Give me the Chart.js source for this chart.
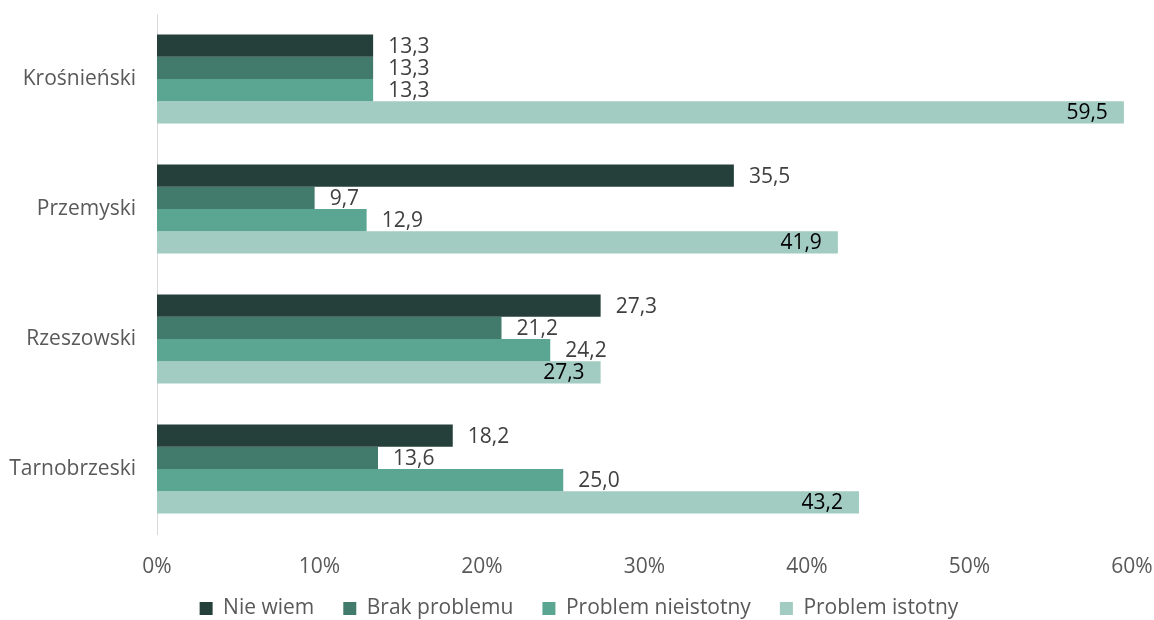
<!DOCTYPE html>
<html><head><meta charset="utf-8">
<script src="https://cdn.jsdelivr.net/npm/chart.js@4/dist/chart.umd.min.js"></script>
<style>html,body{margin:0;padding:0;background:#fff}#wrap{width:1154px;height:620px}</style>
</head><body><div id="wrap"><canvas id="c" width="1154" height="620"></canvas></div>
<script>
const categories = ["Krośnieński", "Przemyski", "Rzeszowski", "Tarnobrzeski"];
const seriesNames = ["Nie wiem", "Brak problemu", "Problem nieistotny", "Problem istotny"];
const nieWiem = [13.3, 35.5, 27.3, 18.2];
const brakProblemu = [13.3, 9.7, 21.2, 13.6];
const problemNieistotny = [13.3, 12.9, 24.2, 25.0];
const problemIstotny = [59.5, 41.9, 27.3, 43.2];
const xTicks = [0, 10, 20, 30, 40, 50, 60];
const colors = ["#253F3A", "#427A6C", "#5BA593", "#A2CBC1"];
const FONT = "'Open Sans', 'Noto Sans', sans-serif";
const LEG_PAD = 29;

const labelPlugin = {
  id: 'vlabels',
  beforeInit(chart) {
    const lg = chart.legend;
    if (lg) {
      const f = lg.fit;
      lg.fit = function () { f.call(this); this.height = 42; };
      const d = lg._draw;
      lg._draw = function () {
        const c = this.ctx;
        c.save();
        c.translate(13, 608 - (this.top + LEG_PAD + 10));
        d.call(this);
        c.restore();
      };
    }
  },
  afterDatasetsDraw(chart) {
    const ctx = chart.ctx;
    ctx.save();
    ctx.font = "21px " + FONT;
    ctx.textBaseline = 'middle';
    chart.data.datasets.forEach((ds, di) => {
      const meta = chart.getDatasetMeta(di);
      meta.data.forEach((bar, i) => {
        const txt = ds.data[i].toFixed(1).replace('.', ',');
        if (di === 3) {
          ctx.fillStyle = '#000000';
          ctx.textAlign = 'right';
          ctx.fillText(txt, bar.x - 16, bar.y + 1);
        } else {
          ctx.fillStyle = '#404040';
          ctx.textAlign = 'left';
          ctx.fillText(txt, bar.x + 15, bar.y + 1);
        }
      });
    });
    ctx.restore();
  }
};

new Chart(document.getElementById('c'), {
  type: 'bar',
  data: {
    labels: categories,
    datasets: [nieWiem, brakProblemu, problemNieistotny, problemIstotny].map((d, i) => ({
      label: seriesNames[i], data: d, backgroundColor: colors[i],
      barPercentage: 1.0, categoryPercentage: 0.685, borderWidth: 0
    }))
  },
  options: {
    indexAxis: 'y',
    responsive: false,
    animation: false,
    layout: { padding: { top: 14, right: 22, left: 0, bottom: 0 } },
    scales: {
      x: {
        min: 0, max: 60,
        afterBuildTicks(s) { s.ticks = xTicks.map(v => ({ value: v })); },
        grid: { display: false, drawTicks: false },
        border: { display: false },
        ticks: { color: '#595959', font: { size: 21, family: FONT }, padding: 20,
          callback: v => v + '%' },
        afterFit(s) { s.height = 44; s.paddingLeft = 0; s.paddingRight = 0; }
      },
      y: {
        grid: { display: false, drawTicks: false },
        border: { display: true, color: '#D9D9D9', width: 1 },
        ticks: { color: '#595959', font: { size: 21, family: FONT }, padding: 21 },
        afterFit(s) { s.width = 157; s.paddingTop = 0; s.paddingBottom = 0; }
      }
    },
    plugins: {
      legend: {
        position: 'bottom',
        labels: { color: '#595959', font: { size: 21, family: FONT }, boxWidth: 13, boxHeight: 13, padding: LEG_PAD }
      },
      tooltip: { enabled: false }
    }
  },
  plugins: [labelPlugin]
});
</script></body></html>
